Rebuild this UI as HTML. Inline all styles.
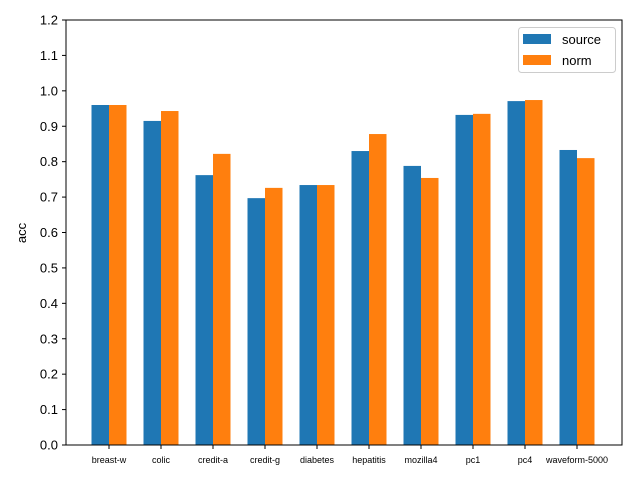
<!DOCTYPE html>
<html><head><meta charset="utf-8"><style>
body{margin:0;background:#fff;}
svg{display:block;font-family:"Liberation Sans","DejaVu Sans",sans-serif;}
</style></head><body>
<svg id="chart" width="640" height="480">
<rect x="0" y="0" width="640" height="480" fill="#fff"/>
<g id="bars"></g>
<g id="yticks"></g>
<g id="xticks"></g>
<rect x="66" y="20" width="556" height="425" fill="none" stroke="#000" stroke-width="1"/>
<text x="26" y="233" font-size="13" text-anchor="middle" transform="rotate(-90 26 233)">acc</text>
<g>
<rect x="518.5" y="27.5" width="97" height="45" rx="3" fill="#fff" stroke="#ccc"/>
<rect x="523" y="34" width="28" height="10" fill="#1f77b4"/>
<text x="562" y="44" font-size="13">source</text>
<rect x="523" y="55" width="28" height="10" fill="#ff7f0e"/>
<text x="562" y="65" font-size="13">norm</text>
</g>
</svg>
<script>
const categories=["breast-w","colic","credit-a","credit-g","diabetes","hepatitis","mozilla4","pc1","pc4","waveform-5000"];
const sourceValues=[0.960,0.915,0.762,0.697,0.734,0.830,0.788,0.932,0.971,0.833];
const normValues=[0.960,0.943,0.822,0.726,0.734,0.878,0.754,0.935,0.974,0.810];
const yTicks=[0,0.1,0.2,0.3,0.4,0.5,0.6,0.7,0.8,0.9,1.0,1.1,1.2];
const NS="http://www.w3.org/2000/svg";
function yScale(v){return 445-v*(425/1.2);}
function xScale(i){return 109+52*i;}
const bw=17.5;
const bars=document.getElementById('bars');
function mk(tag,attrs,parent){const e=document.createElementNS(NS,tag);for(const k in attrs)e.setAttribute(k,attrs[k]);parent.appendChild(e);return e;}
categories.forEach((c,i)=>{
  const cx=xScale(i);
  const b1=mk('rect',{x:cx-bw,y:yScale(sourceValues[i]),width:bw,height:445-yScale(sourceValues[i]),fill:'#1f77b4'},bars);
  
  
  const b2=mk('rect',{x:cx,y:yScale(normValues[i]),width:bw,height:445-yScale(normValues[i]),fill:'#ff7f0e'},bars);
  
  
});
const yt=document.getElementById('yticks');
yTicks.forEach(v=>{
  const y=yScale(v);
  const l=mk('line',{x1:62,x2:66,y1:y,y2:y,stroke:'#000'},yt);
  
  
  const t=mk('text',{x:58,y:y+4.5,'font-size':13,'text-anchor':'end'},yt);
  t.textContent=v.toFixed(1);
  
  
});
const xt=document.getElementById('xticks');
categories.forEach((c,i)=>{
  const x=xScale(i);
  const l=mk('line',{x1:x,x2:x,y1:445,y2:449,stroke:'#000'},xt);
  
  
  const t=mk('text',{x:x,y:463,'font-size':9,'text-anchor':'middle'},xt);
  t.textContent=c;
  
  
});
</script>
</body></html>
